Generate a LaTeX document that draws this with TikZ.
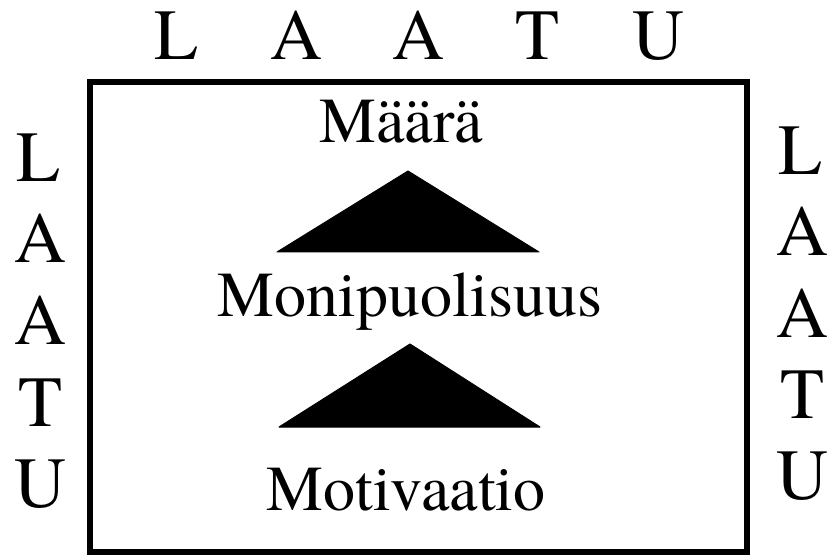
\documentclass[tikz,border=0pt]{standalone}
\usepackage{fontspec}
\setmainfont{TeX Gyre Termes}
\tikzset{
  kirjain/.style={anchor=base, inner sep=0pt, font=\fontsize{72bp}{80bp}\selectfont},
  otsikko/.style={anchor=base, inner sep=0pt, font=\fontsize{64bp}{72bp}\selectfont},
  kolmio/.style={fill=black, draw=black, line join=round, line width=1bp}
}
\begin{document}
\begin{tikzpicture}[x=1bp, y=-1bp]
				\useasboundingbox (0,0) rectangle (830,557);
				\draw[line width=6bp] (90,82) rectangle (747,552);
				% ylarivi
				\node[kirjain] (t1) at (176,60) {L};
				\node[kirjain] (t2) at (296,60) {A};
				\node[kirjain] (t3) at (418,60) {A};
				\node[kirjain] (t4) at (537,60) {T};
				\node[kirjain] (t5) at (658,60) {U};
				% vasen sarake
				\node[kirjain] (v1) at (38,182) {L};
				\node[kirjain] (v2) at (40,263) {A};
				\node[kirjain] (v3) at (40,344) {A};
				\node[kirjain] (v4) at (40,426) {T};
				\node[kirjain] (v5) at (40,507) {U};
				% oikea sarake
				\node[kirjain] (o1) at (800,175) {L};
				\node[kirjain] (o2) at (802,256) {A};
				\node[kirjain] (o3) at (802,337) {A};
				\node[kirjain] (o4) at (802,418) {T};
				\node[kirjain] (o5) at (802,499) {U};
				% sisalto
				\node[otsikko] (maara) at (401,143) {Määrä};
				\node[otsikko] (moni) at (410,317) {Monipuolisuus};
				\node[otsikko] (moti) at (406,510) {Motivaatio};
				\draw[kolmio] (277,252) -- (408,171) -- (539,252) -- cycle;
				\draw[kolmio] (279,427) -- (410,344) -- (540,427) -- cycle;
			\end{tikzpicture}
\end{document}
